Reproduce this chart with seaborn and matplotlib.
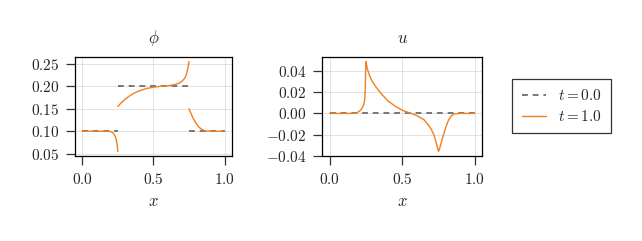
import numpy as np
import pandas as pd
import seaborn as sns
import matplotlib
matplotlib.use("Agg")
import matplotlib.pyplot as plt

# t = 0.0 initial state
phi0_x = [[0.0, 0.25], [0.25, 0.75], [0.75, 1.0]]
phi0_y = [[0.1, 0.1], [0.2, 0.2], [0.1, 0.1]]
u0_x = [0.0, 1.0]
u0_y = [0.0, 0.0]

# t = 1.0 phi, three pieces
phi1_x = [
    [0.0, 0.1, 0.15, 0.18, 0.2, 0.21, 0.22, 0.23, 0.235, 0.24, 0.245, 0.248, 0.25],
    [0.25, 0.27, 0.3, 0.33, 0.36, 0.4, 0.45, 0.5, 0.55, 0.6, 0.65, 0.68, 0.7, 0.72,
     0.73, 0.74, 0.75],
    [0.75, 0.76, 0.78, 0.8, 0.82, 0.84, 0.86, 0.9, 1.0],
]
phi1_y = [
    [0.1, 0.1, 0.1, 0.0998, 0.099, 0.0975, 0.095, 0.09, 0.086, 0.08, 0.07, 0.062, 0.055],
    [0.155, 0.162, 0.171, 0.178, 0.184, 0.19, 0.195, 0.198, 0.2, 0.201, 0.204, 0.207,
     0.211, 0.218, 0.225, 0.237, 0.255],
    [0.15, 0.142, 0.128, 0.117, 0.109, 0.104, 0.101, 0.1, 0.1],
]

# t = 1.0 u
u1_x = [0.0, 0.15, 0.18, 0.2, 0.22, 0.235, 0.242, 0.246, 0.249, 0.251, 0.26, 0.28, 0.3,
        0.33, 0.36, 0.4, 0.45, 0.5, 0.55, 0.6, 0.65, 0.68, 0.7, 0.72, 0.74, 0.75, 0.76,
        0.78, 0.8, 0.82, 0.84, 0.86, 0.9, 1.0]
u1_y = [0.0, 0.0, 0.0003, 0.0015, 0.004, 0.008, 0.013, 0.025, 0.045, 0.049, 0.042,
        0.034, 0.029, 0.023, 0.018, 0.012, 0.007, 0.003, 0.0005, -0.002, -0.006, -0.011,
        -0.015, -0.021, -0.031, -0.036, -0.032, -0.022, -0.013, -0.006, -0.002, -0.0005,
        0.0, 0.0]

gray = "#777777"
orange = "#f07f1e"

sns.set_theme(style="whitegrid")
plt.rcParams["font.family"] = "serif"
plt.rcParams["font.serif"] = ["cmr10"]
plt.rcParams["mathtext.fontset"] = "cm"
plt.rcParams["axes.formatter.use_mathtext"] = True
plt.rcParams["font.size"] = 11

fig = plt.figure(figsize=(6.42, 2.41), dpi=100)
ax1 = fig.add_axes([0.117, 0.353, 0.244, 0.410])
ax2 = fig.add_axes([0.502, 0.353, 0.249, 0.410])

for xs, ys in zip(phi0_x, phi0_y):
    sns.lineplot(x=xs, y=ys, ax=ax1, color=gray, linestyle=(0, (3, 2.5)), linewidth=1.4)
for xs, ys in zip(phi1_x, phi1_y):
    sns.lineplot(x=xs, y=ys, ax=ax1, color=orange, linewidth=1.0, sort=False)

sns.lineplot(x=u0_x, y=u0_y, ax=ax2, color=gray, linestyle=(0, (3, 2.5)), linewidth=1.4,
             label=r"$t = 0.0$")
sns.lineplot(x=u1_x, y=u1_y, ax=ax2, color=orange, linewidth=1.0, sort=False,
             label=r"$t = 1.0$")

ax1.set_title(r"$\phi$", fontsize=12, pad=10)
ax2.set_title(r"$u$", fontsize=12, pad=10)
ax1.set_yticks([0.05, 0.10, 0.15, 0.20, 0.25])
ax1.set_yticklabels([r"$0.05$", r"$0.10$", r"$0.15$", r"$0.20$", r"$0.25$"])
ax2.set_yticks([-0.04, -0.02, 0.0, 0.02, 0.04])
ax2.set_yticklabels([r"$-0.04$", r"$-0.02$", r"$0.00$", r"$0.02$", r"$0.04$"])

for ax in (ax1, ax2):
    ax.set_xlabel(r"$x$", fontsize=12, labelpad=5)
    ax.set_xticks([0.0, 0.5, 1.0])
    ax.set_xticklabels([r"$0.0$", r"$0.5$", r"$1.0$"])
    ax.margins(x=0.05, y=0.05)
    ax.grid(True, color="#dddddd", linewidth=0.6)
    ax.set_facecolor("white")
    for s in ax.spines.values():
        s.set_color("black")
        s.set_linewidth(0.9)
    ax.tick_params(axis="both", which="major", direction="out", length=6.5, width=0.9,
                   color="#333333", labelsize=11, pad=5, bottom=True, left=True)

handles, labels = ax2.get_legend_handles_labels()
ax2.get_legend().remove()
leg = fig.legend(handles, labels, loc="center", bbox_to_anchor=(0.875, 0.56),
                 frameon=True, fancybox=False, edgecolor="black", fontsize=11,
                 handlelength=1.6, borderpad=0.6, labelspacing=0.4)
leg.get_frame().set_linewidth(0.9)

fig.savefig("out.png", dpi=100)
